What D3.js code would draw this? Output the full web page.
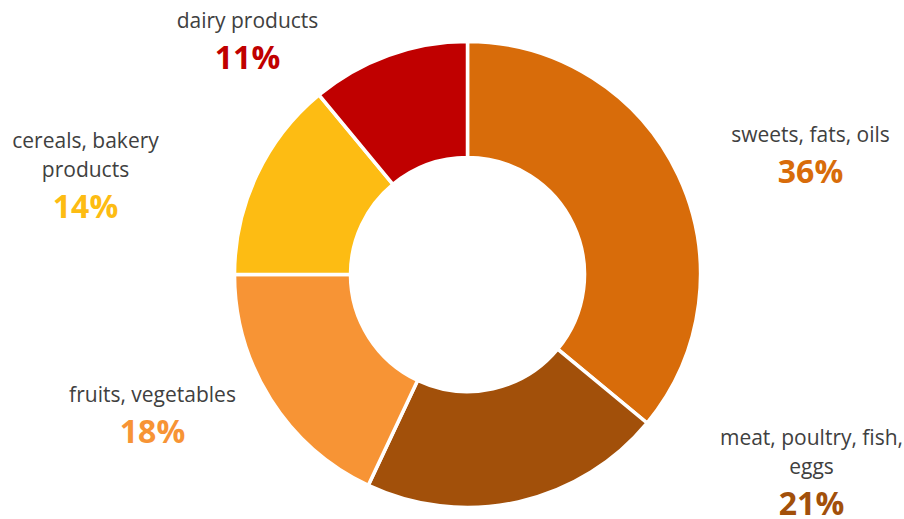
<!DOCTYPE html>
<html>
<head>
<meta charset="utf-8">
<script src="https://cdn.jsdelivr.net/npm/d3@7"></script>
<style>
  html, body { margin: 0; padding: 0; background: #fff; }
  svg { display: block; font-family: "Open Sans", sans-serif; }
</style>
</head>
<body>
<div id="chart"></div>
<script>
// data
var categories = ["sweets, fats, oils", "meat, poultry, fish, eggs", "fruits, vegetables", "cereals, bakery products", "dairy products"];
var labelLines = [["sweets, fats, oils"], ["meat, poultry, fish,", "eggs"], ["fruits, vegetables"], ["cereals, bakery", "products"], ["dairy products"]];
var shares = [36, 21, 18, 14, 11];
var colors = ["#D86C0A", "#A2500A", "#F79435", "#FDBC13", "#C00000"];

// layout
var svg_Width = 904;
var svg_Height = 519;
var cx = 467.5, cy = 274.5;
var outerR = 233, innerR = 117;
// label anchor (center x, baseline of the percent) relative to pie center
var labelAnchor = [[343, -92], [344, 240], [-315, 168], [-382, -57], [-220, -206]];

var svg = d3.select("#chart")
    .append("svg")
    .attr("width", svg_Width)
    .attr("height", svg_Height);

var g = svg.append("g")
    .attr("transform", "translate(" + cx + "," + cy + ")");

var pie = d3.pie().sort(null).value(function(d) { return d; });
var arc = d3.arc().innerRadius(innerR).outerRadius(outerR);

var arcs = pie(shares);

g.selectAll("path.slice")
    .data(arcs)
    .enter()
    .append("path")
    .attr("class", "slice")
    .attr("d", arc)
    .attr("fill", function(d, i) { return colors[i]; })
    .attr("stroke", "#fff")
    .attr("stroke-width", 3.5)
    .attr("stroke-linejoin", "miter");

var labels = g.selectAll("g.label")
    .data(arcs)
    .enter()
    .append("g")
    .attr("class", "label")
    .attr("transform", function(d, i) {
      return "translate(" + labelAnchor[i][0] + "," + labelAnchor[i][1] + ")";
    });

labels.each(function(d, i) {
  var sel = d3.select(this);
  var lines = labelLines[i];
  lines.forEach(function(line, j) {
    sel.append("text")
      .attr("x", 0)
      .attr("y", -41 - (lines.length - 1 - j) * 29)
      .attr("text-anchor", "middle")
      .attr("font-size", "21px")
      .attr("fill", "#404040")
      .text(line);
  });
  sel.append("text")
    .attr("x", 0)
    .attr("y", 0)
    .attr("text-anchor", "middle")
    .attr("font-size", "32px")
    .attr("font-weight", "bold")
    .attr("fill", colors[i])
    .text(shares[i] + "%");
});
</script>
</body>
</html>
